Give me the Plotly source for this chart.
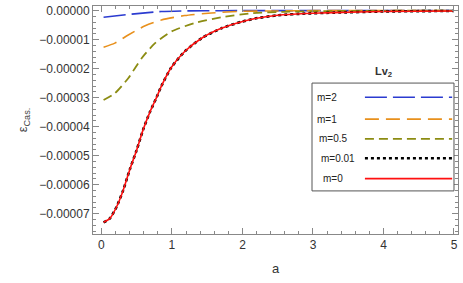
import plotly.graph_objects as go

S = 1e-5
# m = 0 (red solid) and m = 0.01 (black dotted)
a_m0 = [0.03, 0.12, 0.215, 0.31, 0.40, 0.50, 0.59, 0.69, 0.78, 0.85, 0.99, 1.18, 1.42, 1.70, 1.99, 2.18, 2.5, 2.9, 3.3, 4.0, 5.0]
v_m0 = [-7.30, -7.16, -6.76, -6.18, -5.49, -4.80, -4.11, -3.48, -3.00, -2.60, -1.96, -1.41, -0.95, -0.61, -0.38, -0.27, -0.16, -0.10, -0.07, -0.03, -0.01]
a_m001 = a_m0
v_m001 = v_m0
# m = 0.5 (olive)
a_m05 = [0.03, 0.19, 0.38, 0.57, 0.76, 0.99, 1.32, 1.70, 2.13, 2.6, 3.2, 4.0, 5.0]
v_m05 = [-3.08, -2.85, -2.33, -1.64, -1.12, -0.72, -0.43, -0.23, -0.09, -0.04, -0.015, -0.005, 0.0]
# m = 1 (orange)
a_m1 = [0.03, 0.19, 0.38, 0.62, 0.85, 1.18, 1.56, 1.99, 2.5, 3.0, 4.0, 5.0]
v_m1 = [-1.26, -1.12, -0.84, -0.52, -0.32, -0.17, -0.08, -0.025, -0.01, 0.0, 0.0, 0.0]
# m = 2 (blue)
a_m2 = [0.03, 0.47, 0.85, 1.23, 1.7, 2.5, 5.0]
v_m2 = [-0.23, -0.11, -0.03, -0.008, -0.002, 0.0, 0.0]

labels = ["m=2", "m=1", "m=0.5", "m=0.01", "m=0"]
colors = ["#2b3bd0", "#e8901c", "#8c8c12", "#000000", "#ff1010"]
dashes = ["22px,6px", "14px,7px", "9px,5px", "3px,3px", "solid"]
widths = [1.6, 1.6, 1.8, 2.6, 1.6]

series = [(a_m2, v_m2), (a_m1, v_m1), (a_m05, v_m05), (a_m001, v_m001), (a_m0, v_m0)]

fig = go.Figure()
for (xs, ys), lab, c, d, w in zip(series, labels, colors, dashes, widths):
    fig.add_trace(go.Scatter(x=xs, y=[v * S for v in ys], mode="lines", name=lab,
                             line=dict(color=c, dash=d, width=w, shape="spline", smoothing=0.6),
                             showlegend=False, hoverinfo="skip"))

# custom legend (text left, sample right) in paper coords
shapes = [dict(type="rect", xref="paper", yref="paper", x0=0.60, x1=0.989, y0=0.189, y1=0.662,
               line=dict(color="#555555", width=1), fillcolor="white", layer="above")]
row_y = [0.600, 0.504, 0.417, 0.332, 0.243]
txt_x = [0.608, 0.608, 0.614, 0.619, 0.625]
annotations = []
for lab, c, d, w, yy, tx in zip(labels, colors, dashes, widths, row_y, txt_x):
    shapes.append(dict(type="line", xref="paper", yref="paper", x0=0.745, x1=0.984, y0=yy, y1=yy,
                       line=dict(color=c, dash=d, width=w), layer="above"))
    annotations.append(dict(xref="paper", yref="paper", x=tx, y=yy, text=lab, showarrow=False,
                            xanchor="left", yanchor="middle",
                            font=dict(family="Liberation Sans", size=10, color="#222222")))
annotations.append(dict(xref="paper", yref="paper", x=0.795, y=0.711, text="<b>Lv<sub>2</sub></b>",
                        showarrow=False, xanchor="center", yanchor="middle",
                        font=dict(family="Liberation Sans", size=11, color="#333333")))

axis_common = dict(showline=True, linecolor="#888888", linewidth=1, mirror="allticks",
                   ticks="inside", ticklen=6, tickcolor="#888888", showgrid=False, zeroline=False,
                   automargin=False, ticklabeloverflow="allow",
                   tickfont=dict(family="Liberation Sans", size=12, color="#333333"))

fig.update_layout(
    width=463, height=283,
    margin=dict(l=93, r=5, t=6, b=49),
    plot_bgcolor="white", paper_bgcolor="white",
    shapes=shapes, annotations=annotations,
    xaxis=dict(range=[-0.12, 5.057], dtick=1, tick0=0,
               minor=dict(dtick=0.2, ticklen=3, tickcolor="#888888", ticks="inside"),
               title=dict(text="a", font=dict(family="Liberation Sans", size=13, color="#333333"), standoff=12),
               **axis_common),
    yaxis=dict(range=[-7.70e-5, 0.16e-5], dtick=1e-5, tick0=0, tickformat=".5f",
               minor=dict(dtick=0.2e-5, ticklen=3, tickcolor="#888888", ticks="inside"),
               title=dict(text="ε<sub>Cas.</sub>", font=dict(family="Liberation Sans", size=13, color="#444444"), standoff=8),
               **axis_common),
)

fig.write_html("out.html", config={"displayModeBar": False},
               post_script="document.body.style.margin='0';document.body.style.padding='0';document.body.style.overflow='hidden';")
